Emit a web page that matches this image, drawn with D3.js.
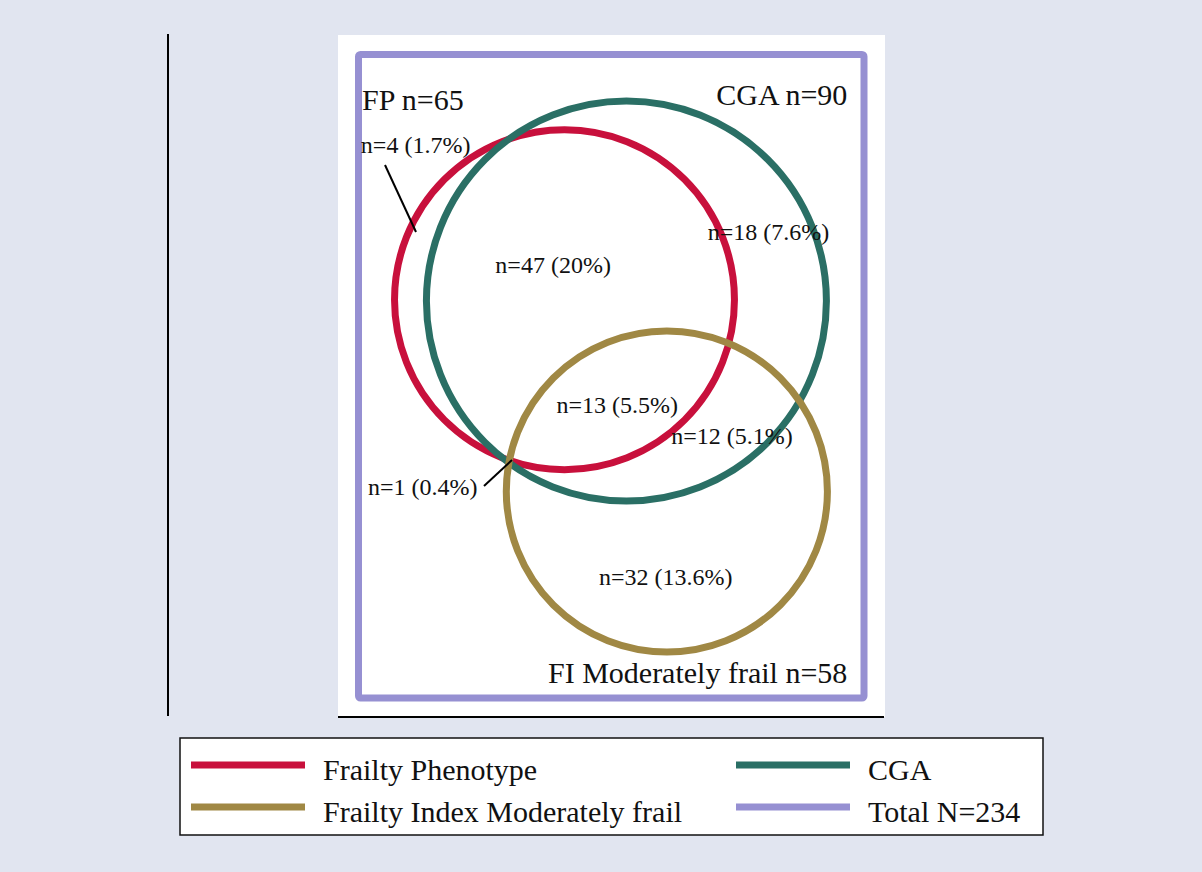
<!DOCTYPE html>
<html>
<head>
<meta charset="utf-8">
<script src="https://cdn.jsdelivr.net/npm/d3@7"></script>
<style>
  body { margin: 0; background: #e1e5f0; }
  svg { display: block; }
</style>
</head>
<body>
<div id="chart"></div>
<script>
// set names and sizes
var setNames = ["FP", "CGA", "FI Moderately frail"];
var setCounts = [65, 90, 58];
var total = 234;

// region counts and the percentages printed on the figure
var regionCounts = [4, 47, 18, 13, 12, 1, 32];
var regionPct = ["1.7", "20", "7.6", "5.5", "5.1", "0.4", "13.6"];

var legendLabels = ["Frailty Phenotype", "CGA", "Frailty Index Moderately frail", "Total N=" + total];
var colors = ["#c8103c", "#2a6f65", "#a08844", "#9690d2"];

// layout, in box units (0-100 each way)
var centers = [[40.75, 38.1], [53.0, 38.3], [61.0, 67.9]];
var regionPos = [[11.3, 150], [38.5, 0], [81.1, 0], [51.2, 0], [73.9, 0], [12.7, 0], [60.8, 0]];
var regionY = [15.3, 34.0, 28.9, 55.7, 60.5, 68.4, 82.4];
var titleY = [8.6, 7.9, 97.7];

var W = 1202, H = 872;
var svg = d3.select("#chart").append("svg").attr("width", W).attr("height", H);

// box scales
var x = d3.scaleLinear().domain([0, 100]).range([358.5, 864]);
var y = d3.scaleLinear().domain([0, 100]).range([54.5, 698]);
var r = d3.scaleSqrt().domain([0, 90]).range([0, 200]);

var serif = "'Liberation Serif', 'Times New Roman', serif";

// white plot region and its frame lines
svg.append("rect").attr("x", 338).attr("y", 35).attr("width", 547).attr("height", 682).attr("fill", "#fff");
svg.append("line").attr("x1", 168).attr("x2", 168).attr("y1", 34).attr("y2", 716)
    .attr("stroke", "#000").attr("stroke-width", 2);
svg.append("line").attr("x1", 338).attr("x2", 884).attr("y1", 717).attr("y2", 717)
    .attr("stroke", "#000").attr("stroke-width", 2);

// total box
svg.append("rect")
    .attr("x", x(0)).attr("y", y(0))
    .attr("width", x(100) - x(0)).attr("height", y(100) - y(0))
    .attr("rx", 2)
    .attr("fill", "none").attr("stroke", colors[3]).attr("stroke-width", 7);

// circles
svg.selectAll("circle.set")
    .data(setCounts)
    .enter()
    .append("circle")
    .attr("class", "set")
    .attr("cx", function (d, i) { return x(centers[i][0]); })
    .attr("cy", function (d, i) { return y(centers[i][1]); })
    .attr("r", function (d) { return r(d); })
    .attr("fill", "none")
    .attr("stroke", function (d, i) { return colors[i]; })
    .attr("stroke-width", 7);

// set titles
var titleX = [x(0.7), x(96.7), x(96.7)];
var titleAnchor = ["start", "end", "end"];
svg.selectAll("text.title")
    .data(setNames)
    .enter()
    .append("text")
    .attr("class", "title")
    .attr("x", function (d, i) { return titleX[i]; })
    .attr("y", function (d, i) { return y(titleY[i]); })
    .attr("text-anchor", function (d, i) { return titleAnchor[i]; })
    .style("font-family", serif)
    .attr("font-size", 30)
    .attr("fill", "#111")
    .text(function (d, i) { return d + " n=" + setCounts[i]; });

// leader lines for the small regions
var leaders = [[[385, 165], [416, 232]], [[484, 486], [512, 460]]];
svg.selectAll("line.leader")
    .data(leaders)
    .enter()
    .append("line")
    .attr("class", "leader")
    .attr("x1", function (d) { return d[0][0]; })
    .attr("y1", function (d) { return d[0][1]; })
    .attr("x2", function (d) { return d[1][0]; })
    .attr("y2", function (d) { return d[1][1]; })
    .attr("stroke", "#000").attr("stroke-width", 2);

// region labels
svg.selectAll("text.region")
    .data(regionCounts)
    .enter()
    .append("text")
    .attr("class", "region")
    .attr("x", function (d, i) { return x(regionPos[i][0]); })
    .attr("y", function (d, i) { return y(regionY[i]); })
    .attr("text-anchor", "middle")
    .style("font-family", serif)
    .attr("font-size", 24)
    .attr("fill", "#111")
    .text(function (d, i) { return "n=" + d + " (" + regionPct[i] + "%)"; });

// legend
var lg = svg.append("g");
lg.append("rect").attr("x", 180).attr("y", 738).attr("width", 863).attr("height", 97)
    .attr("fill", "#fff").attr("stroke", "#111").attr("stroke-width", 1.5);
var legX = [191, 736, 191, 736];
var legY = [765, 765, 807, 807];
var legColor = [colors[0], colors[1], colors[2], colors[3]];
var items = lg.selectAll("g.item")
    .data(legendLabels)
    .enter()
    .append("g")
    .attr("class", "item")
    .attr("transform", function (d, i) { return "translate(" + legX[i] + "," + legY[i] + ")"; });
items.append("line")
    .attr("x1", 0).attr("x2", 114).attr("y1", 0).attr("y2", 0)
    .attr("stroke", function (d, i) { return legColor[i]; })
    .attr("stroke-width", 7);
items.append("text")
    .attr("x", 132).attr("y", 15)
    .style("font-family", serif)
    .attr("font-size", 30)
    .attr("fill", "#111")
    .text(function (d) { return d; });
</script>
</body>
</html>
